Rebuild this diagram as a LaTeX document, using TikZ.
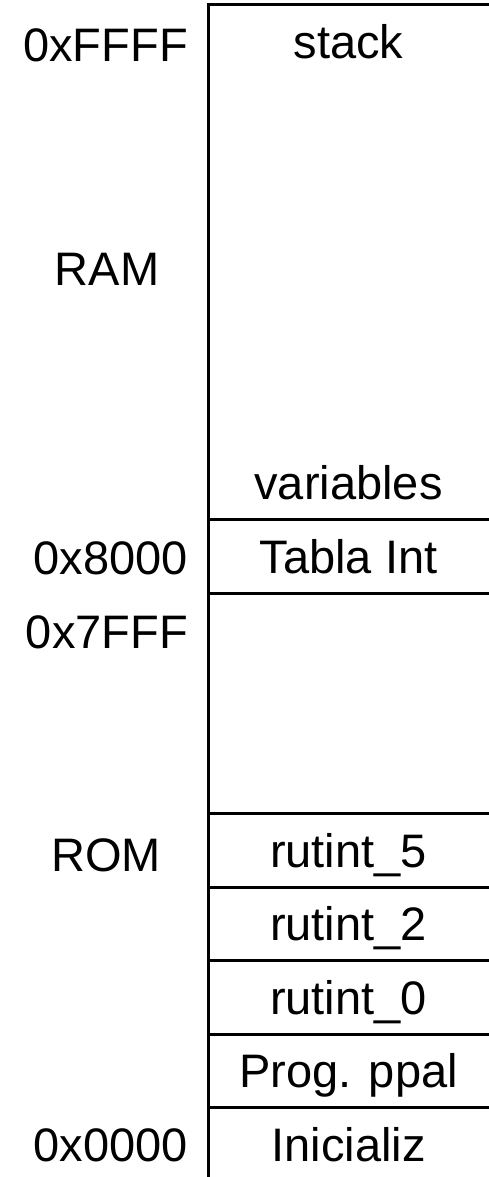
\documentclass[tikz,border=0pt]{standalone}
\usepackage{fontspec}
\setmainfont{Liberation Sans}
\begin{document}
\begin{tikzpicture}[x=1pt,y=1pt,
  mem/.style={line width=3pt},
  txt/.style={font=\fontsize{47}{56}\selectfont, text height=34pt, text depth=0pt},
  cell/.style={txt, minimum width=281pt, minimum height=73.5pt, inner sep=0pt, outer sep=0pt},
  lbl/.style={txt, inner sep=0pt},
]
\useasboundingbox (0,0) rectangle (489,-1177);
% memory map: 16 slots, top address first
\foreach \i/\t in {0/stack,1/,2/,3/,4/,5/,6/variables,7/Tabla Int,8/,9/,10/,
                   11/rutint\_5,12/rutint\_2,13/rutint\_0,14/Prog. ppal,15/Inicializ}
  \node[cell, anchor=north west] (c\i) at (208, {-5-73.5*\i}) {\t};
% addresses and regions
\node[lbl, anchor=east] (aFFFF) at ([xshift=-20pt,yshift=-3pt]c0.west) {0xFFFF};
\node[lbl] (ram) at ([xshift=-101pt,yshift=-6pt]c3.west) {RAM};
\node[lbl, anchor=east] (a8000) at ([xshift=-20pt,yshift=-1pt]c7.west) {0x8000};
\node[lbl, anchor=east] (a7FFF) at ([xshift=-20pt,yshift=-2pt]c8.west) {0x7FFF};
\node[lbl] (rom) at ([xshift=-102pt,yshift=-4pt]c11.west) {ROM};
\node[lbl, anchor=east] (a0000) at ([xshift=-20pt]c15.west) {0x0000};
% borders
\draw[mem] (c0.north east) -- (c0.north west) -- (c15.south west);
\foreach \i in {6,7,10,11,12,13,14}
  \draw[mem] (c\i.south west) -- (c\i.south east);
\end{tikzpicture}
\end{document}
